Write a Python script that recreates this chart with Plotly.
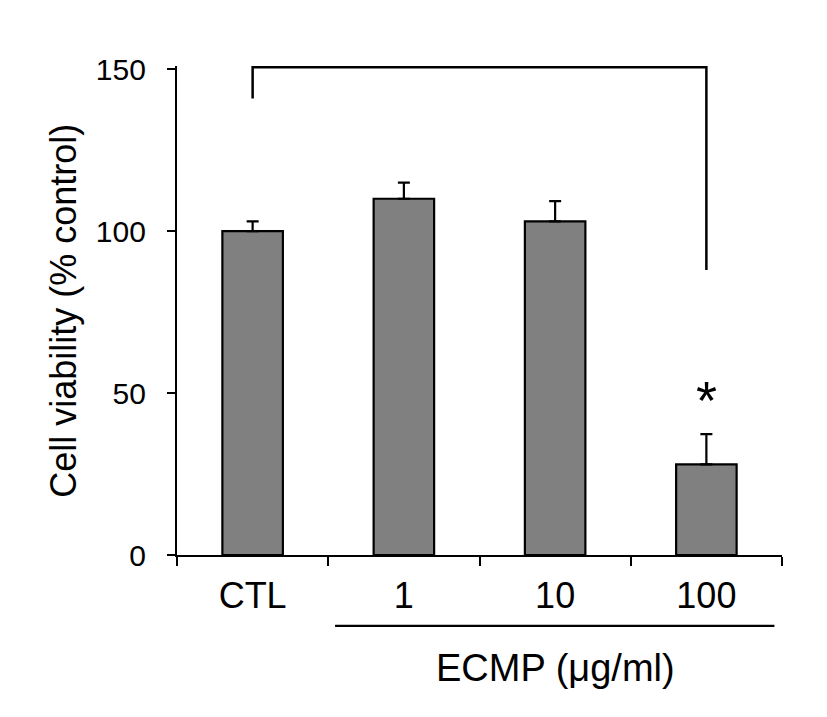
import plotly.graph_objects as go

categories = ["CTL", "1", "10", "100"]
viability = [100, 110, 103, 28]
sem = [3, 5, 6.3, 9.3]

y_ticks = [0, 50, 100, 150]

# significance bracket (data units)
bracket_top = 150.6
bracket_left_bottom = 141
bracket_right_bottom = 88
bracket_from = 0
bracket_to = 3
star_y = 48
star_text = "*"

group_label = "ECMP (μg/ml)"
group_from = 0.545
group_to = 3.45
y_title = "Cell viability (% control)"

FONT = "Liberation Sans, Arial, sans-serif"

fig = go.Figure()
fig.add_trace(go.Bar(
    x=list(range(len(categories))),
    y=viability,
    width=0.4,
    marker=dict(color="#808080", line=dict(color="black", width=2.2)),
    error_y=dict(type="data", symmetric=False, array=sem,
                 arrayminus=[0] * len(sem), color="black",
                 thickness=2.2, width=6),
))

# bracket
fig.add_shape(type="path",
              path=f"M {bracket_from},{bracket_left_bottom} L {bracket_from},{bracket_top} "
                   f"L {bracket_to},{bracket_top} L {bracket_to},{bracket_right_bottom}",
              xref="x", yref="y", line=dict(color="black", width=2.5))

fig.add_annotation(x=bracket_to, y=star_y, xref="x", yref="y", text=star_text,
                   showarrow=False, font=dict(size=54, color="black", family=FONT),
                   yanchor="middle", xanchor="center")

# group underline and label
fig.add_shape(type="line", x0=group_from, x1=group_to, y0=-0.145, y1=-0.145,
              xref="x", yref="paper", line=dict(color="black", width=2.2))
fig.add_annotation(x=2.0, y=-0.231, xref="x", yref="paper",
                   text=group_label, showarrow=False,
                   font=dict(size=38, color="black", family=FONT),
                   yanchor="middle", xanchor="center")

fig.add_annotation(x=-0.188, y=0.5, xref="paper", yref="paper", text=y_title,
                   textangle=-90, showarrow=False, xanchor="center", yanchor="middle",
                   font=dict(size=36, color="black", family=FONT))

fig.update_xaxes(
    tickmode="array", tickvals=list(range(len(categories))), ticktext=categories,
    range=[-0.5, 3.5], showline=True, linecolor="black", linewidth=2.2,
    ticks="", showgrid=False, zeroline=False,
    tickfont=dict(size=36, color="black", family=FONT),
    ticklabelstandoff=8,
)
# boundary ticks via minor ticks
fig.update_xaxes(minor=dict(tickmode="array", tickvals=[-0.5, 0.5, 1.5, 2.5, 3.5],
                            ticks="outside", ticklen=9, tickwidth=2.2, tickcolor="black",
                            showgrid=False))
fig.update_yaxes(
    range=[0, 151], tickvals=y_ticks, showline=True, linecolor="black", linewidth=2.2,
    ticks="outside", ticklen=8, tickwidth=2.2, tickcolor="black",
    showgrid=False, zeroline=False,
    tickfont=dict(size=30, color="black", family=FONT),
    ticklabelstandoff=15,
)

fig.update_layout(
    width=811, height=701,
    margin=dict(l=169, r=37, t=58, b=154),
    plot_bgcolor="white", paper_bgcolor="white",
    showlegend=False,
)

fig.write_html("out.html")
